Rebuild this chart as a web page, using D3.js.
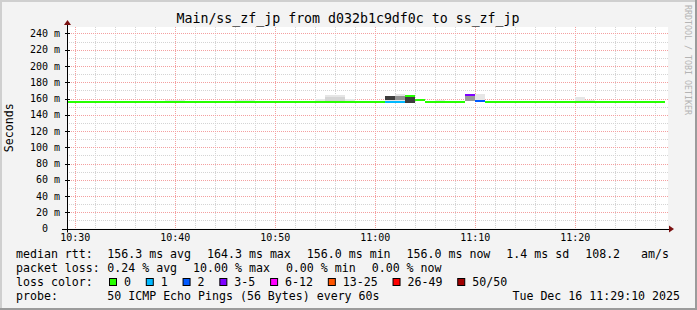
<!DOCTYPE html>
<html>
<head>
<meta charset="utf-8">
<script src="https://cdn.jsdelivr.net/npm/d3@7/dist/d3.min.js"></script>
<style>
  body { margin: 0; background: #f3f3f3; }
  svg { display: block; font-family: "DejaVu Sans Mono", monospace; }
  text { white-space: pre; }
</style>
</head>
<body>
<svg id="chart" width="697" height="310"></svg>
<script>
// one sample per minute, first one is 10:29
const firstSample = new Date(2025, 11, 16, 10, 29, 0);
const viewStart = new Date(2025, 11, 16, 10, 29, 10);
const viewEnd = new Date(2025, 11, 16, 11, 29, 10);

const medianMs = [
  156.0, 156.0, 156.0, 156.0, 156.0, 156.0, 156.0, 156.0, 156.0, 156.0,
  156.0, 156.0, 156.0, 156.0, 156.0, 156.0, 156.0, 156.0, 156.0, 156.0,
  156.0, 156.0, 156.0, 156.0, 156.0, 156.0, 156.0, 156.0, 156.0, 156.0,
  156.0, 156.0, 156.3, 156.3, 163.2, 157.6, 156.0, 156.0, 156.0, 156.0,
  164.3, 157.2, 156.0, 156.0, 156.0, 156.0, 156.0, 156.0, 156.0, 156.0,
  156.0, 156.0, 156.0, 156.0, 156.0, 156.0, 156.0, 156.0, 156.0, 156.0
];
const lostPings = [
  0, 0, 0, 0, 0, 0, 0, 0, 0, 0,
  0, 0, 0, 0, 0, 0, 0, 0, 0, 0,
  0, 0, 0, 0, 0, 0, 0, 0, 0, 0,
  0, 0, 1, 1, 0, 0, 0, 0, 0, 0,
  5, 2, 0, 0, 0, 0, 0, 0, 0, 0,
  0, 0, 0, 0, 0, 0, 0, 0, 0, 0
];
// top of the faint smoke (slowest pings), null = none
const smokeTopMs = [
  null, null, null, null, null, null, null, null, null, null,
  158.4, 158.4, null, null, null, null, null, 158.4, 158.4, null,
  null, null, null, null, null, 159.8, 164.0, 164.0, 158.8, null,
  null, null, 163.3, 166.0, 163.2, null, null, 158.4, null, null,
  162.8, 165.5, null, null, null, null, null, null, null, null,
  null, 162.0, 158.4, null, null, null, null, null, null, null
];
// dense part of the smoke: [sample index, low ms, high ms, share of pings]
const smokeCore = [
  [26, 157.0, 162.0, 0.08],
  [27, 157.0, 162.0, 0.08],
  [32, 157.8, 163.3, 0.92],
  [33, 157.8, 163.0, 0.45],
  [34, 154.3, 161.6, 0.92],
  [40, 156.5, 162.8, 0.40]
];

const lossLabels = ['0', '1', '2', '3-5', '6-12', '13-25', '26-49', '50/50'];
const lossUpper = [0, 1, 2, 5, 12, 25, 49, 50];
const lossColors = ['#26ff00', '#00b8ff', '#0059ff', '#7e00ff', '#ff00ff', '#ff5500', '#ff0000', '#a10000'];

const yTicks = d3.range(0, 241, 20);
const medianLine = ['median rtt:', '156.3 ms avg', '164.3 ms max', '156.0 ms min', '156.0 ms now', '1.4 ms sd', '108.2   am/s'];
const lossLine = ['packet loss:', '0.24 % avg', '10.00 % max', '0.00 % min', '0.00 % now'];
const probeText = '50 ICMP Echo Pings (56 Bytes) every 60s';
const stampText = 'Tue Dec 16 11:29:10 2025';

const W = 697, H = 310;
const plotL = 67, plotR = 667, plotT = 27, plotB = 228.5;

const svg = d3.select('#chart');

// frame
svg.append('rect').attr('width', W).attr('height', H).attr('fill', '#f3f3f3');
svg.append('rect').attr('x', 0).attr('y', 0).attr('width', W).attr('height', 2).attr('fill', '#cfcfcf');
svg.append('rect').attr('x', 0).attr('y', 0).attr('width', 2).attr('height', H).attr('fill', '#cfcfcf');
svg.append('rect').attr('x', 0).attr('y', H - 2).attr('width', W).attr('height', 2).attr('fill', '#9b9b9b');
svg.append('rect').attr('x', W - 2).attr('y', 0).attr('width', 2).attr('height', H).attr('fill', '#9b9b9b');

svg.append('rect').attr('x', plotL).attr('y', plotT).attr('width', plotR - plotL + 1).attr('height', plotB - plotT).attr('fill', '#fff');

let x = d3.scaleTime().domain([viewStart, viewEnd]).range([plotL, plotR]);
let y = d3.scaleLinear().domain([0, 248]).range([plotB, plotT]);

let px = v => Math.round(v) + 0.5;

// grid
let grid = svg.append('g');
let minorY = d3.range(10, 250, 20);
grid.selectAll('.mny').data(minorY).enter().append('line')
  .attr('x1', plotL).attr('x2', plotR + 1)
  .attr('y1', d => px(y(d))).attr('y2', d => px(y(d)))
  .attr('stroke', '#d4d4d4').attr('stroke-dasharray', '1,1');
let minorX = d3.timeMinute.every(2).range(viewStart, viewEnd).filter(d => d.getMinutes() % 10 !== 0);
grid.selectAll('.mnx').data(minorX).enter().append('line')
  .attr('x1', d => px(x(d))).attr('x2', d => px(x(d)))
  .attr('y1', plotT).attr('y2', plotB)
  .attr('stroke', '#d4d4d4').attr('stroke-dasharray', '1,1');
grid.selectAll('.mjy').data(yTicks.slice(1)).enter().append('line')
  .attr('x1', plotL).attr('x2', plotR + 1)
  .attr('y1', d => px(y(d))).attr('y2', d => px(y(d)))
  .attr('stroke', '#f4a0a0').attr('stroke-dasharray', '1,1');
let majorX = d3.timeMinute.every(10).range(viewStart, viewEnd);
grid.selectAll('.mjx').data(majorX).enter().append('line')
  .attr('x1', d => px(x(d))).attr('x2', d => px(x(d)))
  .attr('y1', plotT).attr('y2', plotB)
  .attr('stroke', '#f4a0a0').attr('stroke-dasharray', '1,1');

// samples
let samples = medianMs.map((m, i) => ({
  t0: d3.timeMinute.offset(firstSample, i),
  t1: d3.timeMinute.offset(firstSample, i + 1),
  median: m,
  loss: lostPings[i],
  hi: smokeTopMs[i]
}));

svg.append('clipPath').attr('id', 'plot')
  .append('rect').attr('x', plotL).attr('y', plotT).attr('width', plotR - plotL).attr('height', plotB - plotT);

let plot = svg.append('g').attr('clip-path', 'url(#plot)');

let shade = d3.scaleLinear().domain([0, 1]).range(['#e4e4e4', '#2e2e2e']);

plot.selectAll('.smoke').data(samples.filter(d => d.hi !== null)).enter().append('rect')
  .attr('x', d => Math.round(x(d.t0))).attr('width', d => Math.round(x(d.t1)) - Math.round(x(d.t0)))
  .attr('y', d => Math.round(y(d.hi)))
  .attr('height', d => Math.round(y(d.median)) - Math.round(y(d.hi)))
  .attr('fill', '#e6e6e6');

plot.selectAll('.core').data(smokeCore).enter().append('rect')
  .attr('x', d => Math.round(x(samples[d[0]].t0)))
  .attr('width', d => Math.round(x(samples[d[0]].t1)) - Math.round(x(samples[d[0]].t0)))
  .attr('y', d => Math.round(y(d[2])))
  .attr('height', d => Math.round(y(d[1])) - Math.round(y(d[2])))
  .attr('fill', d => shade(d[3]));

let lossColor = n => lossColors[lossUpper.findIndex(b => n <= b)];

plot.selectAll('.med').data(samples).enter().append('rect')
  .attr('x', d => Math.round(x(d.t0))).attr('width', d => Math.round(x(d.t1)) - Math.round(x(d.t0)))
  .attr('y', d => Math.round(y(d.median)) - 1).attr('height', 2)
  .attr('fill', d => lossColor(d.loss));

// axes
let axis = svg.append('g');
axis.append('line').attr('x1', plotL - 5).attr('x2', plotR + 3).attr('y1', px(plotB)).attr('y2', px(plotB)).attr('stroke', '#000');
axis.append('line').attr('x1', plotL + 0.5).attr('x2', plotL + 0.5).attr('y1', plotB + 4).attr('y2', plotT - 2).attr('stroke', '#000');
axis.append('path').attr('d', `M${plotR + 2},${plotB - 3} L${plotR + 7},${plotB + 0.5} L${plotR + 2},${plotB + 4} Z`).attr('fill', '#7a1010');
axis.append('path').attr('d', `M${plotL - 3},${plotT - 2} L${plotL + 0.5},${plotT - 7} L${plotL + 4},${plotT - 2} Z`).attr('fill', '#7a1010');

axis.selectAll('.ytk').data(yTicks.slice(1)).enter().append('line')
  .attr('x1', plotL - 2).attr('x2', plotL + 3)
  .attr('y1', d => px(y(d))).attr('y2', d => px(y(d)))
  .attr('stroke', '#000');

axis.selectAll('.ylab').data(yTicks).enter().append('text')
  .attr('x', 30).attr('y', d => y(d) + 3.5)
  .attr('font-size', 10).attr('fill', '#000')
  .text(d => d === 0 ? '  0  ' : d3.format('3d')(d) + ' m');

axis.selectAll('.xlab').data(majorX).enter().append('text')
  .attr('x', d => x(d)).attr('y', 241)
  .attr('text-anchor', 'middle').attr('font-size', 10).attr('fill', '#000')
  .text(d3.timeFormat('%H:%M'));

svg.append('text').attr('transform', `translate(13,${(plotT + plotB) / 2}) rotate(-90)`)
  .attr('text-anchor', 'middle').attr('font-size', 11.6).text('Seconds');

svg.append('text').attr('x', 348).attr('y', 23).attr('text-anchor', 'middle')
  .attr('font-size', 13.25).text('Main/ss_zf_jp from d032b1c9df0c to ss_zf_jp');

svg.append('text').attr('transform', 'translate(685,5) rotate(90)')
  .attr('font-size', 8.3).attr('fill', '#b4b4b4').text('RRDTOOL / TOBI OETIKER');

// legend
let legend = svg.append('g').attr('font-size', 11.6).attr('fill', '#000');
let valueCol = 107.3, gap = 16;

function row(pieces, yBase) {
  legend.append('text').attr('x', 16).attr('y', yBase).text(pieces[0]);
  let cx = valueCol;
  pieces.slice(1).forEach(p => {
    let t = legend.append('text').attr('x', cx).attr('y', yBase).text(p);
    cx += t.node().getComputedTextLength() + gap;
  });
}
row(medianLine, 258);
row(lossLine, 272);

legend.append('text').attr('x', 16).attr('y', 286).text('loss color:');
let lx = 109;
lossLabels.forEach((lab, i) => {
  legend.append('rect').attr('x', lx + 0.5).attr('y', 278.5).attr('width', 7).attr('height', 7)
    .attr('fill', lossColors[i]).attr('stroke', '#000');
  let t = legend.append('text').attr('x', lx + 15).attr('y', 286).text(lab);
  lx += 15 + t.node().getComputedTextLength() + 14.8;
});

legend.append('text').attr('x', 16).attr('y', 300).text('probe:');
legend.append('text').attr('x', valueCol).attr('y', 300).text(probeText);
legend.append('text').attr('x', 680).attr('y', 300).attr('text-anchor', 'end').text(stampText);
</script>
</body>
</html>
